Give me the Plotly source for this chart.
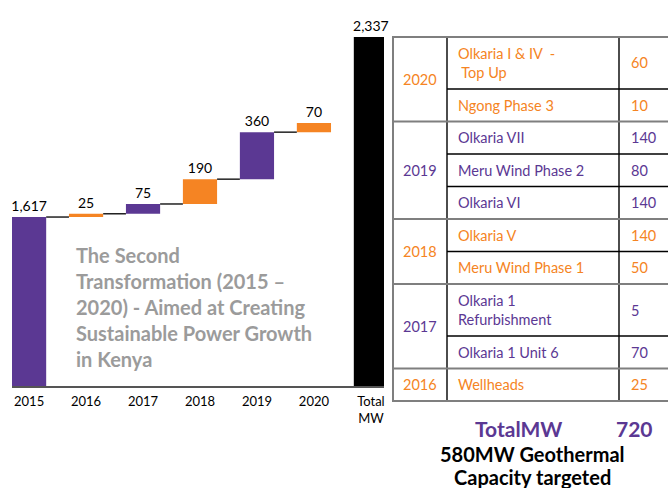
import plotly.graph_objects as go

# ---------------- data ----------------
categories = ["2015", "2016", "2017", "2018", "2019", "2020"]
increments = [1617, 25, 75, 190, 360, 70]
total_tick = "Total<br>MW"
total_value = sum(increments)  # 2,337

table_years = ["2020", "2020", "2019", "2019", "2019", "2018", "2018", "2017", "2017", "2016"]
table_projects = [
    "Olkaria I & IV  -<br> Top Up",
    "Ngong Phase 3",
    "Olkaria VII",
    "Meru Wind Phase 2",
    "Olkaria VI",
    "Olkaria V",
    "Meru Wind Phase 1",
    "Olkaria 1<br>Refurbishment",
    "Olkaria 1 Unit 6",
    "Wellheads",
]
table_values = [60, 10, 140, 80, 140, 140, 50, 5, 70, 25]
table_total_label = "TotalMW"
table_total = sum(table_values)  # 720
note_lines = ["580MW Geothermal", "Capacity targeted"]
side_text = ("The Second<br>Transformation (2015 –<br>2020) - Aimed at Creating"
             "<br>Sustainable Power Growth<br>in Kenya")

# ---------------- styles ----------------
PURPLE = "#5B3893"
ORANGE = "#F58423"
GRAY_TXT = "#9B9B9B"
FONT = "Lato, 'Open Sans', sans-serif"
W, H = 668, 488
year_color = {"2020": ORANGE, "2019": PURPLE, "2018": ORANGE, "2017": PURPLE, "2016": ORANGE}
bar_colors = [PURPLE if i % 2 == 0 else ORANGE for i in range(len(categories))]
BW = 0.6


def px(x):
    return x / W


def py(y):
    return 1 - y / H


# waterfall geometry from data
bases = []
ends = []
run = 0
for i, v in enumerate(increments):
    bases.append(0 if i == 0 else run)
    run = v if i == 0 else run + v
    ends.append(run)

fig = go.Figure()

fig.add_trace(go.Bar(
    x=list(range(len(categories))), y=increments, base=bases, width=BW,
    marker=dict(color=bar_colors, line=dict(width=0)),
    text=[f"{v:,}" for v in increments], textposition="outside",
    constraintext="none", cliponaxis=False,
    textfont=dict(size=14, color="black", family=FONT),
    hoverinfo="skip",
))

# connectors
cx, cy = [], []
for i in range(len(categories) - 1):
    cx += [i + BW / 2, i + 1 - BW / 2, None]
    cy += [ends[i], ends[i], None]
fig.add_trace(go.Scatter(x=cx, y=cy, mode="lines", line=dict(color="#222", width=1.5),
                         hoverinfo="skip"))

# total bar on its own scale
fig.add_trace(go.Bar(
    x=[len(categories)], y=[total_value], width=BW, yaxis="y2",
    marker=dict(color="black", line=dict(width=0)),
    text=[f"{total_value:,}"], textposition="outside", constraintext="none",
    cliponaxis=False, textfont=dict(size=14, color="black", family=FONT),
    hoverinfo="skip",
))

# ---------------- table ----------------
shapes = []
annotations = []
TOP = 37
X0, X1, X2, X3 = 393, 447, 619, 680
row_h = [52 if "<br>" in p else 32.5 for p in table_projects]
bounds = [TOP]
for h in row_h:
    bounds.append(bounds[-1] + h)


def hline(xa, xb, y, color, wd):
    shapes.append(dict(type="line", xref="paper", yref="paper", x0=px(xa), x1=px(xb),
                       y0=py(y), y1=py(y), line=dict(color=color, width=wd)))


def vline(x, ya, yb, color, wd):
    shapes.append(dict(type="line", xref="paper", yref="paper", x0=px(x), x1=px(x),
                       y0=py(ya), y1=py(yb), line=dict(color=color, width=wd)))


vline(X1, bounds[0], bounds[-1], "#000", 1.4)
vline(X2, bounds[0], bounds[-1], "#000", 1.4)

groups = []
start = 0
for i in range(1, len(table_years) + 1):
    if i == len(table_years) or table_years[i] != table_years[start]:
        groups.append((table_years[start], start, i))
        start = i

for i in range(1, len(table_years)):
    if table_years[i] == table_years[i - 1]:
        hline(X1, X3, bounds[i], "#000", 1.4)
for yr, s, e in groups:
    hline(X0, X3, bounds[e], "#7F7F7F", 2)
    annotations.append(dict(xref="paper", yref="paper", x=px((X0 + X1) / 2),
                            y=py((bounds[s] + bounds[e]) / 2), text=yr, showarrow=False,
                            xanchor="center", yanchor="middle",
                            font=dict(size=14.5, color=year_color[yr], family=FONT)))
hline(X0, X3, bounds[0], "#7F7F7F", 2)
vline(X0, bounds[0] - 1, bounds[-1] + 1, "#7F7F7F", 2)

for i, (yr, p, v) in enumerate(zip(table_years, table_projects, table_values)):
    yc = py((bounds[i] + bounds[i + 1]) / 2)
    col = year_color[yr]
    annotations.append(dict(xref="paper", yref="paper", x=px(X1 + 9), y=yc, text=p,
                            showarrow=False, xanchor="left", yanchor="middle", align="left",
                            font=dict(size=14.5, color=col, family=FONT)))
    annotations.append(dict(xref="paper", yref="paper", x=px(X2 + 10), y=yc, text=str(v),
                            showarrow=False, xanchor="left", yanchor="middle",
                            font=dict(size=14.5, color=col, family=FONT)))

annotations.append(dict(xref="paper", yref="paper", x=px(518), y=py(428),
                        text=f"<b>{table_total_label}</b>", showarrow=False,
                        xanchor="center", yanchor="middle",
                        font=dict(size=21, color=PURPLE, family=FONT)))
annotations.append(dict(xref="paper", yref="paper", x=px(634), y=py(428),
                        text=f"<b>{table_total}</b>", showarrow=False,
                        xanchor="center", yanchor="middle",
                        font=dict(size=21, color=PURPLE, family=FONT)))
for k, line in enumerate(note_lines):
    annotations.append(dict(xref="paper", yref="paper", x=px(532), y=py(454 + 23 * k),
                            text=f"<b>{line}</b>", showarrow=False,
                            xanchor="center", yanchor="middle",
                            font=dict(size=20, color="black", family=FONT)))
annotations.append(dict(xref="paper", yref="paper", x=px(74), y=py(307),
                        text=f"<b>{side_text}</b>", showarrow=False,
                        xanchor="left", yanchor="middle", align="left",
                        font=dict(size=20, color=GRAY_TXT, family=FONT)))

fig.update_layout(
    width=W, height=H, margin=dict(l=0, r=0, t=0, b=0),
    paper_bgcolor="white", plot_bgcolor="white",
    showlegend=False, barmode="overlay",
    font=dict(family=FONT, color="black"),
    xaxis=dict(domain=[px(12), px(384)], range=[-0.3, 6.23],
               tickvals=list(range(len(categories) + 1)),
               ticktext=categories + [total_tick],
               showline=True, linecolor="#555", linewidth=2,
               showgrid=False, zeroline=False, ticks="", ticklabelstandoff=2,
               tickfont=dict(size=13, color="black", family=FONT)),
    yaxis=dict(domain=[py(386), py(20)], range=[323, 3126], visible=False,
               showgrid=False, zeroline=False),
    yaxis2=dict(overlaying="y", range=[0, 2451], visible=False,
                showgrid=False, zeroline=False),
    shapes=shapes, annotations=annotations,
)

fig.write_html("out.html", config={"displayModeBar": False},
               post_script="document.body.style.margin='0px';document.body.style.overflow='hidden';")
